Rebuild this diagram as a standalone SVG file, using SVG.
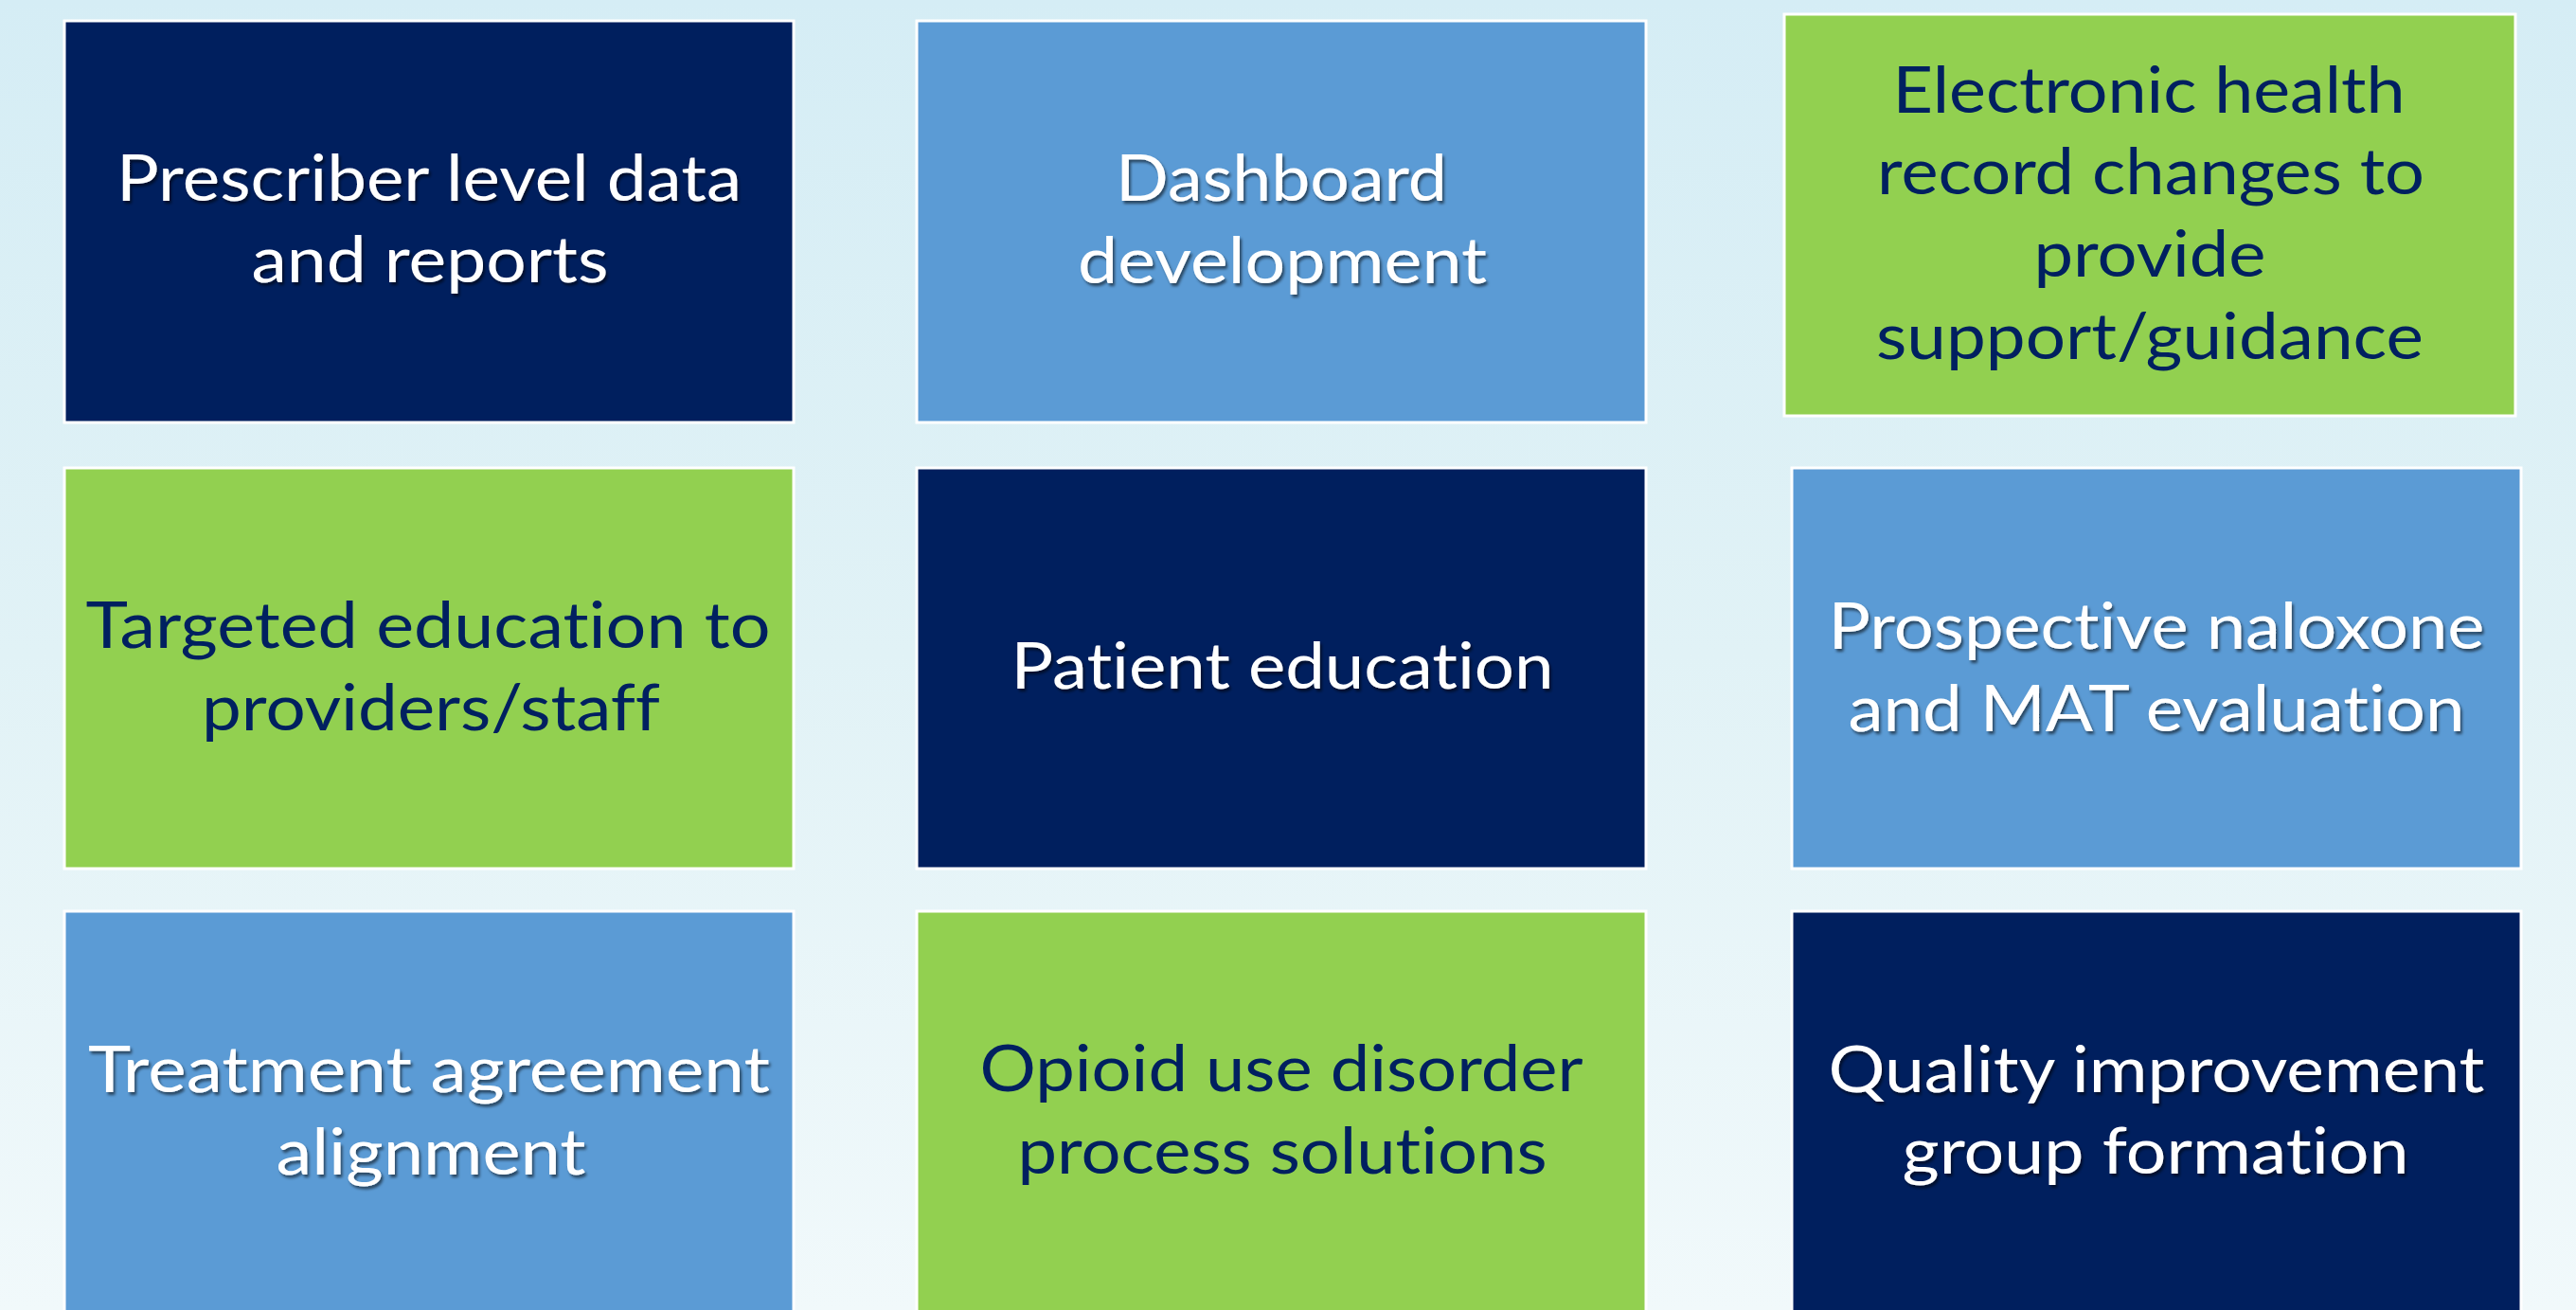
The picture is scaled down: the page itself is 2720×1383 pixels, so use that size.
<svg xmlns="http://www.w3.org/2000/svg" width="2720" height="1383" viewBox="0 0 2720 1383">
  <defs>
    <linearGradient id="bg" x1="0" y1="0" x2="0" y2="1">
      <stop offset="0" stop-color="#d5edf5"/>
      <stop offset="0.5" stop-color="#e1f2f6"/>
      <stop offset="1" stop-color="#f1f9fb"/>
    </linearGradient>
    <filter id="shadow" x="-10%" y="-30%" width="120%" height="160%">
      <feDropShadow dx="2" dy="3" stdDeviation="1.6" flood-color="#000000" flood-opacity="0.55"/>
    </filter>
    <style>
      .box { stroke: #ffffff; stroke-width: 3; }
      .navy { fill: #001f5e; }
      .blue { fill: #5b9bd5; }
      .green { fill: #92d050; }
      .t { font-family: Lato, "Open Sans", "Liberation Sans", sans-serif; font-size: 67px; text-anchor: middle; font-variant-ligatures: none; font-feature-settings: "liga" 0, "clig" 0, "dlig" 0; }
      .light { fill: #ffffff; filter: url(#shadow); }
      .dark { fill: #002060; }
    </style>
  </defs>
  <rect x="0" y="0" width="2720" height="1383" fill="url(#bg)"/>

  <g id="node-prescriber">
    <rect class="box navy" x="68" y="22" width="770" height="424"/>
    <text class="t light" x="453" y="212" textLength="660" lengthAdjust="spacingAndGlyphs">Prescriber level data</text>
    <text class="t light" x="454" y="298" textLength="377" lengthAdjust="spacingAndGlyphs">and reports</text>
  </g>

  <g id="node-dashboard">
    <rect class="box blue" x="968" y="22" width="770" height="424"/>
    <text class="t light" x="1353" y="212" textLength="350" lengthAdjust="spacingAndGlyphs">Dashboard</text>
    <text class="t light" x="1354" y="299" textLength="432" lengthAdjust="spacingAndGlyphs">development</text>
  </g>

  <g id="node-ehr">
    <rect class="box green" x="1884" y="15" width="772" height="424"/>
    <text class="t dark" x="2269" y="119" textLength="541" lengthAdjust="spacingAndGlyphs">Electronic health</text>
    <text class="t dark" x="2271" y="205" textLength="578" lengthAdjust="spacingAndGlyphs">record changes to</text>
    <text class="t dark" x="2270" y="292" textLength="245" lengthAdjust="spacingAndGlyphs">provide</text>
    <text class="t dark" x="2270" y="379" textLength="578" lengthAdjust="spacingAndGlyphs">support/guidance</text>
  </g>

  <g id="node-targeted">
    <rect class="box green" x="68" y="494" width="770" height="423"/>
    <text class="t dark" x="452" y="684" textLength="723" lengthAdjust="spacingAndGlyphs">Targeted education to</text>
    <text class="t dark" x="455" y="771" textLength="484" lengthAdjust="spacingAndGlyphs">providers/staff</text>
  </g>

  <g id="node-patient">
    <rect class="box navy" x="968" y="494" width="770" height="423"/>
    <text class="t light" x="1354" y="727" textLength="573" lengthAdjust="spacingAndGlyphs">Patient education</text>
  </g>

  <g id="node-naloxone">
    <rect class="box blue" x="1892" y="494" width="770" height="423"/>
    <text class="t light" x="2277" y="685" textLength="693" lengthAdjust="spacingAndGlyphs">Prospective naloxone</text>
    <text class="t light" x="2277" y="772" textLength="651" lengthAdjust="spacingAndGlyphs">and MAT evaluation</text>
  </g>

  <g id="node-treatment">
    <rect class="box blue" x="68" y="962" width="770" height="440"/>
    <text class="t light" x="453" y="1153" textLength="720" lengthAdjust="spacingAndGlyphs">Treatment agreement</text>
    <text class="t light" x="455" y="1240" textLength="327" lengthAdjust="spacingAndGlyphs">alignment</text>
  </g>

  <g id="node-opioid">
    <rect class="box green" x="968" y="962" width="770" height="440"/>
    <text class="t dark" x="1353" y="1152" textLength="637" lengthAdjust="spacingAndGlyphs">Opioid use disorder</text>
    <text class="t dark" x="1354" y="1239" textLength="559" lengthAdjust="spacingAndGlyphs">process solutions</text>
  </g>

  <g id="node-quality">
    <rect class="box navy" x="1892" y="962" width="770" height="440"/>
    <text class="t light" x="2277" y="1153" textLength="693" lengthAdjust="spacingAndGlyphs">Quality improvement</text>
    <text class="t light" x="2276" y="1239" textLength="535" lengthAdjust="spacingAndGlyphs">group formation</text>
  </g>

  <g id="connectors"/>
</svg>
